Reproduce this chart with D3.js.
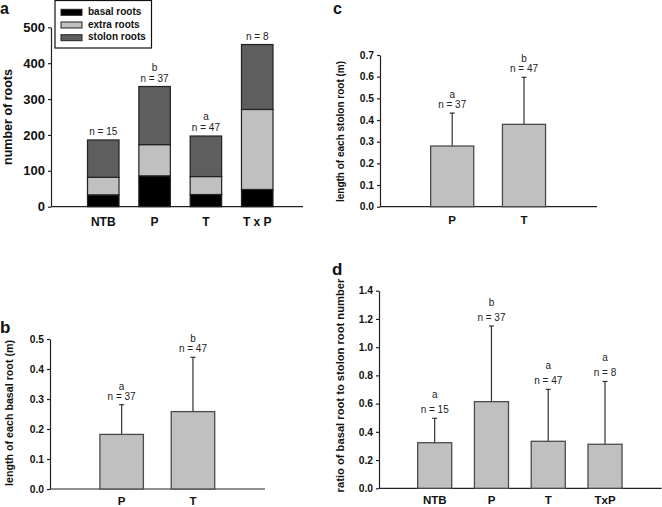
<!DOCTYPE html>
<html><head><meta charset="utf-8">
<script src="https://cdn.jsdelivr.net/npm/d3@7"></script>
<style>
body{margin:0;background:#fff;}
svg{display:block;font-family:"Liberation Sans",Arial,sans-serif;}
</style></head>
<body>
<svg id="chart" width="662" height="507"></svg>
<script>
// ---- Data ----
// Panel a: stacked root numbers
const aCategories = ["NTB", "P", "T", "T x P"];
const aBasal = [33, 86, 34, 48];
const aExtra = [49, 87, 50, 223];
const aStolon = [104, 162, 113, 181];
const aLetters = ["", "b", "a", ""];
const aN = ["n = 15", "n = 37", "n = 47", "n = 8"];
const aSeries = ["basal roots", "extra roots", "stolon roots"];
const aTicks = [0, 100, 200, 300, 400, 500];

// Panel b: length of each basal root
const bCategories = ["P", "T"];
const bMean = [0.182, 0.258];
const bErr = [0.099, 0.181];
const bLetters = ["a", "b"];
const bN = ["n = 37", "n = 47"];
const bTicks = [0, 0.1, 0.2, 0.3, 0.4, 0.5];

// Panel c: length of each stolon root
const cCategories = ["P", "T"];
const cMean = [0.28, 0.38];
const cErr = [0.152, 0.217];
const cLetters = ["a", "b"];
const cN = ["n = 37", "n = 47"];
const cTicks = [0, 0.1, 0.2, 0.3, 0.4, 0.5, 0.6, 0.7];

// Panel d: ratio basal/stolon root number
const dCategories = ["NTB", "P", "T", "TxP"];
const dMean = [0.323, 0.614, 0.333, 0.312];
const dErr = [0.173, 0.536, 0.368, 0.445];
const dLetters = ["a", "b", "a", "a"];
const dN = ["n = 15", "n = 37", "n = 47", "n = 8"];
const dTicks = [0, 0.2, 0.4, 0.6, 0.8, 1.0, 1.2, 1.4];

const svg = d3.select("#chart");
const FILL = "#c0c0c0", EDGE = "#4a4a4a", AX = "#222";

function axesFor(g, cfg) {
  const y = d3.scaleLinear().domain(cfg.domain).range(cfg.yRange);
  const x = d3.scaleBand().domain(cfg.cats).range(cfg.xRange)
    .paddingInner(cfg.pad).paddingOuter(cfg.pad / 2);
  const yAx = g.append("g").attr("transform", `translate(${cfg.x0},0)`)
    .call(d3.axisLeft(y).tickValues(cfg.ticks).tickSize(3).tickSizeOuter(0)
      .tickPadding(3).tickFormat(cfg.fmt));
  yAx.select(".domain").attr("stroke", AX).attr("stroke-width", 1.2);
  yAx.selectAll(".tick line").attr("stroke", AX).attr("stroke-width", 1.2);
  yAx.selectAll(".tick text").attr("font-size", cfg.tickFont).attr("font-weight", "bold")
    .attr("fill", "#111").attr("font-family", "Liberation Sans, Arial, sans-serif");
  // x axis baseline
  g.append("line").attr("x1", cfg.x0).attr("x2", cfg.x1)
    .attr("y1", y(0)).attr("y2", y(0)).attr("stroke", AX).attr("stroke-width", 1.2);
  const xAx = g.append("g").attr("transform", `translate(0,${y(0)})`)
    .call(d3.axisBottom(x).tickSize(0).tickPadding(cfg.xPad));
  xAx.select(".domain").remove();
  xAx.selectAll(".tick text").attr("font-size", cfg.xFont).attr("font-weight", "bold")
    .attr("fill", "#111").attr("font-family", "Liberation Sans, Arial, sans-serif");
  // y title
  g.append("text").attr("transform", `translate(${cfg.titleX},${cfg.titleY}) rotate(-90)`)
    .attr("text-anchor", "middle").attr("dominant-baseline", "middle")
    .attr("font-size", cfg.titleFont).attr("font-weight", "bold").attr("fill", "#111")
    .text(cfg.title);
  // panel letter
  g.append("text").attr("x", cfg.letterX).attr("y", cfg.letterY)
    .attr("font-size", cfg.letterFont || 17).attr("font-weight", "bold").attr("fill", "#111").text(cfg.letter);
  return {x, y};
}

function annot(g, x, y, cats, tops, letters, ns, gap, spacing) {
  cats.forEach((c, i) => {
    const cx = x(c) + x.bandwidth() / 2;
    const base = y(tops[i]) - gap;
    g.append("text").attr("x", cx).attr("y", base).attr("text-anchor", "middle")
      .attr("font-size", 10).attr("fill", "#222").text(ns[i]);
    if (letters[i]) g.append("text").attr("x", cx).attr("y", base - spacing)
      .attr("text-anchor", "middle").attr("font-size", 10).attr("fill", "#222").text(letters[i]);
  });
}

function errorPanel(cfg, cats, mean, err, letters, ns) {
  const g = svg.append("g");
  const {x, y} = axesFor(g, Object.assign({cats}, cfg));
  // error bars
  cats.forEach((c, i) => {
    const cx = x(c) + x.bandwidth() / 2;
    g.append("line").attr("x1", cx).attr("x2", cx).attr("y1", y(mean[i]))
      .attr("y2", y(mean[i] + err[i])).attr("stroke", "#333").attr("stroke-width", 1.2);
    g.append("line").attr("x1", cx - 2.5).attr("x2", cx + 2.5)
      .attr("y1", y(mean[i] + err[i])).attr("y2", y(mean[i] + err[i]))
      .attr("stroke", "#333").attr("stroke-width", 1.2);
  });
  g.selectAll("rect.bar").data(cats).join("rect").attr("class", "bar")
    .attr("x", c => x(c)).attr("width", x.bandwidth())
    .attr("y", (c, i) => y(mean[i])).attr("height", (c, i) => y(0) - y(mean[i]))
    .attr("fill", FILL).attr("stroke", EDGE).attr("stroke-width", 1.3);
  annot(g, x, y, cats, mean.map((m, i) => m + err[i]), letters, ns, cfg.annGap, cfg.annSpacing);
}

// ---- Panel a ----
(function () {
  const g = svg.append("g");
  const {x, y} = axesFor(g, {
    cats: aCategories, domain: [0, 500], yRange: [206.7, 27.3],
    xRange: [77.6, 282.9], pad: 0.386, x0: 51, x1: 303, ticks: aTicks, fmt: d3.format("d"),
    tickFont: 13, xFont: 12, xPad: 11, title: "number of roots", titleX: 9, titleY: 117,
    titleFont: 12.5, letter: "a", letterX: 0, letterY: 13.5, letterFont: 16
  });
  const stacked = aCategories.map((c, i) => ({cat: c, "basal roots": aBasal[i],
    "extra roots": aExtra[i], "stolon roots": aStolon[i]}));
  const series = d3.stack().keys(aSeries)(stacked);
  const colors = d3.scaleOrdinal().domain(aSeries).range(["#000000", "#c0c0c0", "#5e5e5e"]);
  g.selectAll("g.s").data(series).join("g").attr("class", "s")
    .attr("fill", d => colors(d.key))
    .selectAll("rect").data(d => d).join("rect")
    .attr("x", d => x(d.data.cat)).attr("width", x.bandwidth())
    .attr("y", d => y(d[1])).attr("height", d => y(d[0]) - y(d[1]))
    .attr("stroke", "#222").attr("stroke-width", 1.2);
  const totals = aCategories.map((c, i) => aBasal[i] + aExtra[i] + aStolon[i]);
  annot(g, x, y, aCategories, totals, aLetters, aN, 5, 11);
  // legend
  const lg = g.append("g");
  lg.append("rect").attr("x", 55).attr("y", 0.5).attr("width", 96.5).attr("height", 47.5)
    .attr("fill", "#fff").attr("stroke", "#111").attr("stroke-width", 1.2);
  aSeries.forEach((s, i) => {
    const cy = 12.3 + i * 12.7;
    lg.append("rect").attr("x", 61).attr("y", cy - 3).attr("width", 21).attr("height", 6)
      .attr("fill", colors(s)).attr("stroke", "#222").attr("stroke-width", 1);
    lg.append("text").attr("x", 88).attr("y", cy).attr("dominant-baseline", "middle")
      .attr("font-size", 10).attr("font-weight", "bold").attr("fill", "#111").text(s);
  });
})();

// ---- Panel c ----
errorPanel({
  domain: [0, 0.7], yRange: [206.7, 55], xRange: [416.3, 559.9], pad: 0.4,
  x0: 380, x1: 597, ticks: cTicks, fmt: d3.format(".1f"), tickFont: 10.3, xFont: 11.5, xPad: 9,
  title: "length of each stolon root (m)", titleX: 341, titleY: 131.5, titleFont: 10,
  letter: "c", letterX: 333, letterY: 14, letterFont: 16, annGap: 5, annSpacing: 10
}, cCategories, cMean, cErr, cLetters, cN);

// ---- Panel b ----
errorPanel({
  domain: [0, 0.5], yRange: [489, 339], xRange: [86, 228.6], pad: 0.39,
  x0: 50, x1: 265, ticks: bTicks, fmt: d3.format(".1f"), tickFont: 10.3, xFont: 11.5, xPad: 8,
  title: "length of each basal root (m)", titleX: 10, titleY: 413, titleFont: 10.7,
  letter: "b", letterX: 0, letterY: 333, annGap: 5, annSpacing: 10
}, bCategories, bMean, bErr, bLetters, bN);

// ---- Panel d ----
errorPanel({
  domain: [0, 1.4], yRange: [488.3, 290.7], xRange: [406.3, 633.4], pad: 0.4,
  x0: 379, x1: 661.5, ticks: dTicks, fmt: d3.format(".1f"), tickFont: 10.3, xFont: 11.5, xPad: 8,
  title: "ratio of basal root to stolon root number", titleX: 341, titleY: 385.5, titleFont: 11.2,
  letter: "d", letterX: 332, letterY: 275, annGap: 5, annSpacing: 15
}, dCategories, dMean, dErr, dLetters, dN);
</script>
</body></html>
